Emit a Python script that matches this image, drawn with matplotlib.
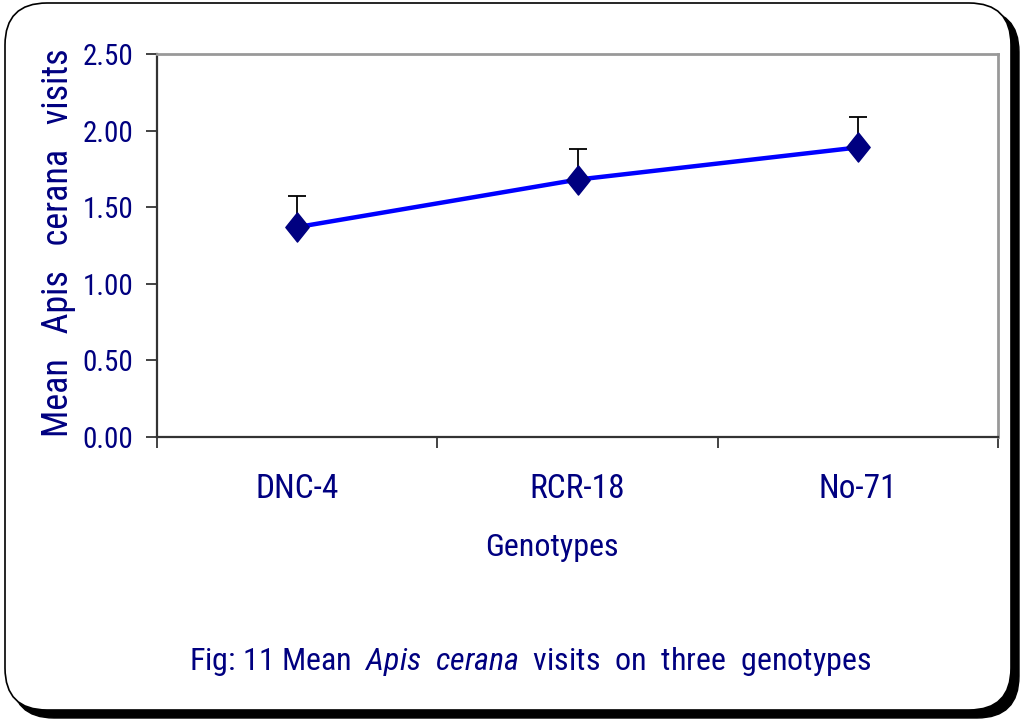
import matplotlib
matplotlib.use('Agg')
import matplotlib.pyplot as plt
from matplotlib.patches import FancyBboxPatch
from matplotlib.path import Path

# data
genotypes = ['DNC-4', 'RCR-18', 'No-71']
mean_visits = [1.37, 1.68, 1.89]
err_up = [0.20, 0.20, 0.20]
y_ticks = [0.0, 0.5, 1.0, 1.5, 2.0, 2.5]

fam = 'Roboto Condensed'
plt.rcParams['font.family'] = [fam, 'Liberation Sans', 'DejaVu Sans']
plt.rcParams['mathtext.fontset'] = 'custom'
plt.rcParams['mathtext.it'] = fam + ':italic'
plt.rcParams['mathtext.rm'] = fam

navy = '#000080'

fig = plt.figure(figsize=(10.22, 7.23), dpi=100)

# rounded frame with shadow (pixel coordinates)
bg = fig.add_axes([0, 0, 1, 1])
bg.set_xlim(0, 1022)
bg.set_ylim(723, 0)
bg.axis('off')
shadow = FancyBboxPatch((12, 10), 1007, 708, boxstyle='round,pad=0,rounding_size=42',
                        fc='black', ec='black')
frame = FancyBboxPatch((5, 3), 1006, 707, boxstyle='round,pad=0,rounding_size=42',
                       fc='white', ec='black', lw=1.2)
bg.add_patch(shadow)
bg.add_patch(frame)

ax = fig.add_axes([157 / 1022, 1 - 437 / 723, 841 / 1022, 383 / 723])
ax.set_facecolor('none')
x = [i + 0.5 for i in range(len(genotypes))]

ax.errorbar(x, mean_visits, yerr=[[0] * 3, err_up], fmt='none', ecolor='black',
            elinewidth=1.3, capsize=6.5, capthick=1.3, zorder=2)
diamond = Path([(-0.8, 0), (0, 1), (0.8, 0), (0, -1), (-0.8, 0)],
               [Path.MOVETO, Path.LINETO, Path.LINETO, Path.LINETO, Path.CLOSEPOLY])
ax.plot(x, mean_visits, color='#0000FF', lw=3.2, zorder=3)
ax.plot(x, mean_visits, ls='none', marker=diamond, ms=21, mfc=navy, mec=navy, zorder=4)

ax.set_xlim(0, 3)
ax.set_ylim(0, 2.5)
ax.set_yticks(y_ticks)
ax.set_yticklabels(['%.2f' % v for v in y_ticks], color=navy, fontsize=21)
ax.set_xticks([0, 1, 2, 3])
ax.set_xticklabels([])
ax.set_xticks(x, minor=True)
ax.set_xticklabels(genotypes, minor=True, color=navy, fontsize=24)
ax.tick_params(axis='x', which='minor', length=0, pad=26)
ax.tick_params(axis='x', which='major', length=8, width=1.2, color='#222222')
ax.tick_params(axis='y', length=8, width=1.2, color='#222222', pad=9)

for s in ['left', 'bottom']:
    ax.spines[s].set_color('#333333')
    ax.spines[s].set_linewidth(1.6)
for s in ['top', 'right']:
    ax.spines[s].set_color('#999999')
    ax.spines[s].set_linewidth(2)

fig.text(552 / 1022, 1 - 548 / 723, 'Genotypes', color=navy, fontsize=23,
         ha='center', va='center')
fig.text(58 / 1022, 1 - 243 / 723, 'Mean   Apis   cerana   visits', color=navy,
         fontsize=26, rotation=90, ha='center', va='center')
fig.text(530 / 1022, 1 - 662 / 723,
         r'Fig: 11 Mean  $\mathit{Apis}$  $\mathit{cerana}$  visits  on  three  genotypes',
         color=navy, fontsize=23, ha='center', va='center')

fig.savefig('out.png', dpi=100)
